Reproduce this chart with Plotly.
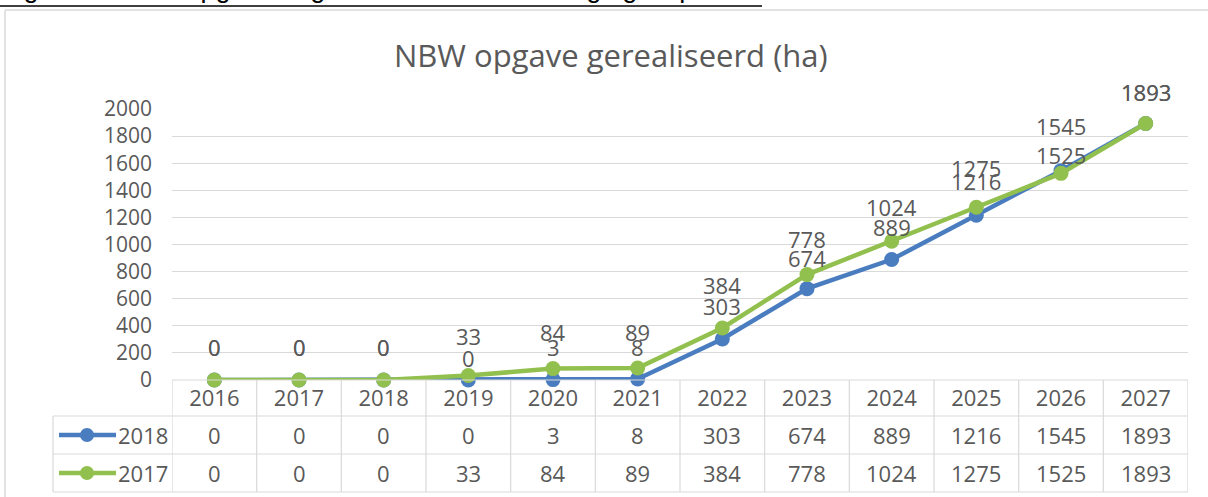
import plotly.graph_objects as go

# ---------------- data ----------------
years = ["2016", "2017", "2018", "2019", "2020", "2021", "2022", "2023", "2024", "2025", "2026", "2027"]
series_2018 = [0, 0, 0, 0, 3, 8, 303, 674, 889, 1216, 1545, 1893]
series_2017 = [0, 0, 0, 33, 84, 89, 384, 778, 1024, 1275, 1525, 1893]
series_names = ["2018", "2017"]
y_ticks = [0, 200, 400, 600, 800, 1000, 1200, 1400, 1600, 1800, 2000]
title_text = "NBW opgave gerealiseerd (ha)"
caption_text = "Figuur 5: NWB opgave uitgedrukt in hectares bergingscapaciteit"

# ---------------- styling / layout ----------------
W, H = 1208, 497
BLUE = "#4A7DC0"
GREEN = "#92C04F"
GRID = "#D9D9D9"
TXT = "#595959"
FONT = "Open Sans"
LBL = 22

def py(px):  # pixel from top -> paper y
    return 1 - px / H

def pxx(px):
    return px / W

x_left, x_right = 172, 1188
y_zero, y_top = 380, 109
row_edges = [380, 416, 454, 492]
legend_left = 53

# label offsets (pixels above the point) – manual label placement of the original
shift_2018 = [33, 33, 33, 22, 33, 32, 33, 31, 33, 34, 45, 32]
shift_2017 = [33, 33, 33, 40, 37, 36, 43, 36, 34, 39, 18, 32]

fig = go.Figure()
for name, vals, col in [(series_names[0], series_2018, BLUE), (series_names[1], series_2017, GREEN)]:
    fig.add_trace(go.Scatter(
        x=list(range(len(years))), y=vals, mode="lines+markers", name=name,
        line=dict(color=col, width=4.5),
        marker=dict(color=col, size=15),
        cliponaxis=False, showlegend=False,
    ))

annotations = []
# data labels
for vals, shifts in [(series_2018, shift_2018), (series_2017, shift_2017)]:
    for i, (v, s) in enumerate(zip(vals, shifts)):
        annotations.append(dict(x=i, y=v, xref="x", yref="y", text=str(v), showarrow=False,
                                xanchor="center", yanchor="middle",
                                yshift=s, font=dict(family=FONT, size=LBL, color=TXT)))

# table values
row_centers = [(row_edges[1] + row_edges[2]) / 2, (row_edges[2] + row_edges[3]) / 2]
for vals, rc in [(series_2018, row_centers[0]), (series_2017, row_centers[1])]:
    for i, v in enumerate(vals):
        annotations.append(dict(x=i, y=py(rc), xref="x", yref="paper", text=str(v), showarrow=False,
                                xanchor="center", yanchor="middle",
                                font=dict(family=FONT, size=LBL, color=TXT)))

# legend keys inside table
shapes = []
for name, col, rc in [(series_names[0], BLUE, row_centers[0]), (series_names[1], GREEN, row_centers[1])]:
    shapes.append(dict(type="line", xref="paper", yref="paper", x0=pxx(59), x1=pxx(116), y0=py(rc), y1=py(rc),
                       line=dict(color=col, width=4.5)))
    shapes.append(dict(type="circle", xref="paper", yref="paper", x0=pxx(80), x1=pxx(94), y0=py(rc + 7), y1=py(rc - 7),
                       fillcolor=col, line=dict(color=col, width=0)))
    annotations.append(dict(x=pxx(170), y=py(rc), xref="paper", yref="paper", xanchor="right", yanchor="middle",
                            text=name, showarrow=False, font=dict(family=FONT, size=LBL, color=TXT)))

# table grid lines
for k in range(len(years) + 1):
    shapes.append(dict(type="line", xref="x", yref="paper", x0=k - 0.5, x1=k - 0.5,
                       y0=py(row_edges[0]), y1=py(row_edges[-1]), line=dict(color=GRID, width=1.2)))
shapes.append(dict(type="line", xref="paper", yref="paper", x0=pxx(x_left), x1=pxx(x_right),
                   y0=py(row_edges[0]), y1=py(row_edges[0]), line=dict(color=GRID, width=1.2)))
for r in row_edges[1:]:
    shapes.append(dict(type="line", xref="paper", yref="paper", x0=pxx(legend_left), x1=pxx(x_right),
                       y0=py(r), y1=py(r), line=dict(color=GRID, width=1.2)))
shapes.append(dict(type="line", xref="paper", yref="paper", x0=pxx(legend_left), x1=pxx(legend_left),
                   y0=py(row_edges[1]), y1=py(row_edges[-1]), line=dict(color=GRID, width=1.2)))

# chart outer border
shapes.append(dict(type="line", xref="paper", yref="paper", x0=pxx(5), x1=1.0, y0=py(10), y1=py(10),
                   line=dict(color=GRID, width=1.5)))
shapes.append(dict(type="line", xref="paper", yref="paper", x0=pxx(5), x1=pxx(5), y0=py(10), y1=0,
                   line=dict(color=GRID, width=1.5)))

# clipped caption above the chart
annotations.append(dict(x=0, y=py(4), xref="paper", yref="paper", xanchor="left", yanchor="bottom",
                        text=caption_text, showarrow=False, borderpad=0,
                        font=dict(family="Liberation Sans", size=27, color="#000000")))
shapes.append(dict(type="line", xref="paper", yref="paper", x0=0, x1=pxx(762), y0=py(6), y1=py(6),
                   line=dict(color="#000000", width=1.5)))

# title
annotations.append(dict(x=pxx(611), y=py(55), xref="paper", yref="paper", xanchor="center", yanchor="middle",
                        text=title_text, showarrow=False,
                        font=dict(family=FONT, size=31, color=TXT)))

fig.update_layout(
    width=W, height=H,
    margin=dict(l=0, r=0, t=0, b=0, autoexpand=False),
    paper_bgcolor="white", plot_bgcolor="white",
    xaxis=dict(domain=[pxx(x_left), pxx(x_right)], range=[-0.5, len(years) - 0.5],
               tickvals=list(range(len(years))), ticktext=years, automargin=False,
               showgrid=False, zeroline=False, showline=False, ticks="",
               tickfont=dict(family=FONT, size=LBL, color=TXT), ticklabelstandoff=3),
    yaxis=dict(domain=[py(y_zero), py(y_top)], range=[0, 2000], tickvals=y_ticks, automargin=False,
               showgrid=True, gridcolor=GRID, gridwidth=1.2, zeroline=False, showline=False, ticks="",
               tickfont=dict(family=FONT, size=21, color=TXT), ticklabelstandoff=19),
    annotations=annotations, shapes=shapes,
)

fig.write_html("out.html", config={"displayModeBar": False},
               post_script="document.body.style.margin='0px';")
